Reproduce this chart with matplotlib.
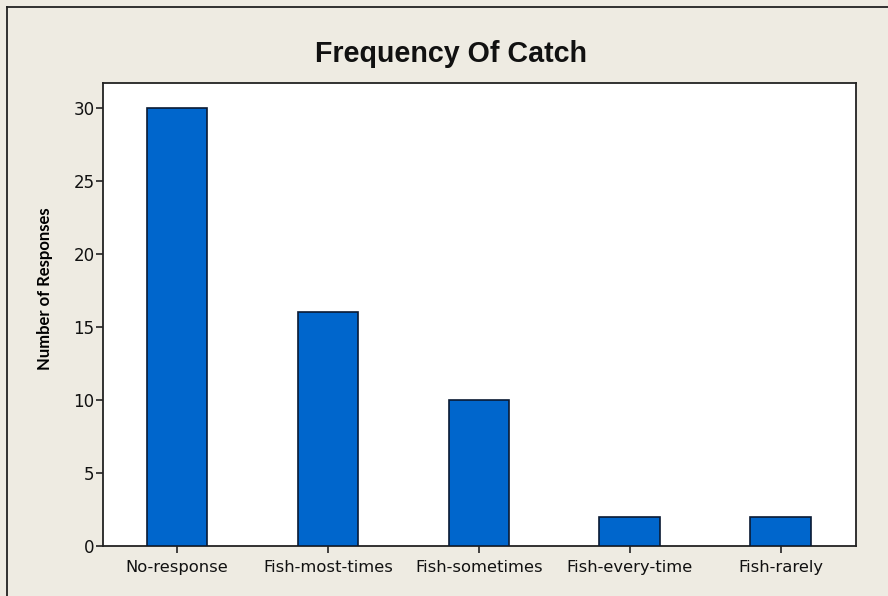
import matplotlib
matplotlib.use("Agg")
import matplotlib.pyplot as plt
from matplotlib.lines import Line2D

categories = ["No-response", "Fish-most-times", "Fish-sometimes", "Fish-every-time", "Fish-rarely"]
counts = [30, 16, 10, 2, 2]
yticks = [0, 5, 10, 15, 20, 25, 30]

W, H = 888, 596
fig = plt.figure(figsize=(W/100, H/100), dpi=100)
bg = "#EEEBE2"
fig.patch.set_facecolor(bg)

left, right, top, bottom = 103, 856, 83, 546
ax = fig.add_axes([left/W, 1 - bottom/H, (right-left)/W, (bottom-top)/H])
ax.set_facecolor("white")

x = list(range(len(categories)))
ax.bar(x, counts, width=0.4, color="#0066CC", edgecolor="#0A1A33", linewidth=1.2, zorder=3)
ax.set_xlim(-0.49, 4.5)
ax.set_ylim(0, 31.7)
ax.set_xticks(x)
ax.set_xticklabels(categories, fontsize=11.8, family="DejaVu Sans", color="#111111")
ax.set_yticks(yticks)
ax.set_yticklabels([str(v) for v in yticks], fontsize=12, color="#111111")
ax.tick_params(axis="both", direction="out", length=5, width=1.2, color="#222222", pad=1)
ax.tick_params(axis="x", pad=5)
for s in ax.spines.values():
    s.set_linewidth(1.3)
    s.set_color("#222222")

ax.set_ylabel("Number of Responses", fontsize=12, fontweight="bold", family="Lato")
ax.yaxis.label.set_va("center")
ax.yaxis.set_label_coords((45 - left) / (right - left), (bottom - 289) / (bottom - top))

fig.text(451/W, 1 - 62/H, "Frequency Of Catch", ha="center", va="baseline",
         fontsize=20.6, fontweight="bold", family="Liberation Sans", color="#111111")

# outer frame (left and top edges)
fig.add_artist(Line2D([7/W, 7/W], [0, 1 - 7/H], transform=fig.transFigure, color="#222222", lw=1.3))
fig.add_artist(Line2D([7/W, 1], [1 - 7/H, 1 - 7/H], transform=fig.transFigure, color="#222222", lw=1.3))

fig.savefig("out.png", dpi=100, facecolor=bg)
